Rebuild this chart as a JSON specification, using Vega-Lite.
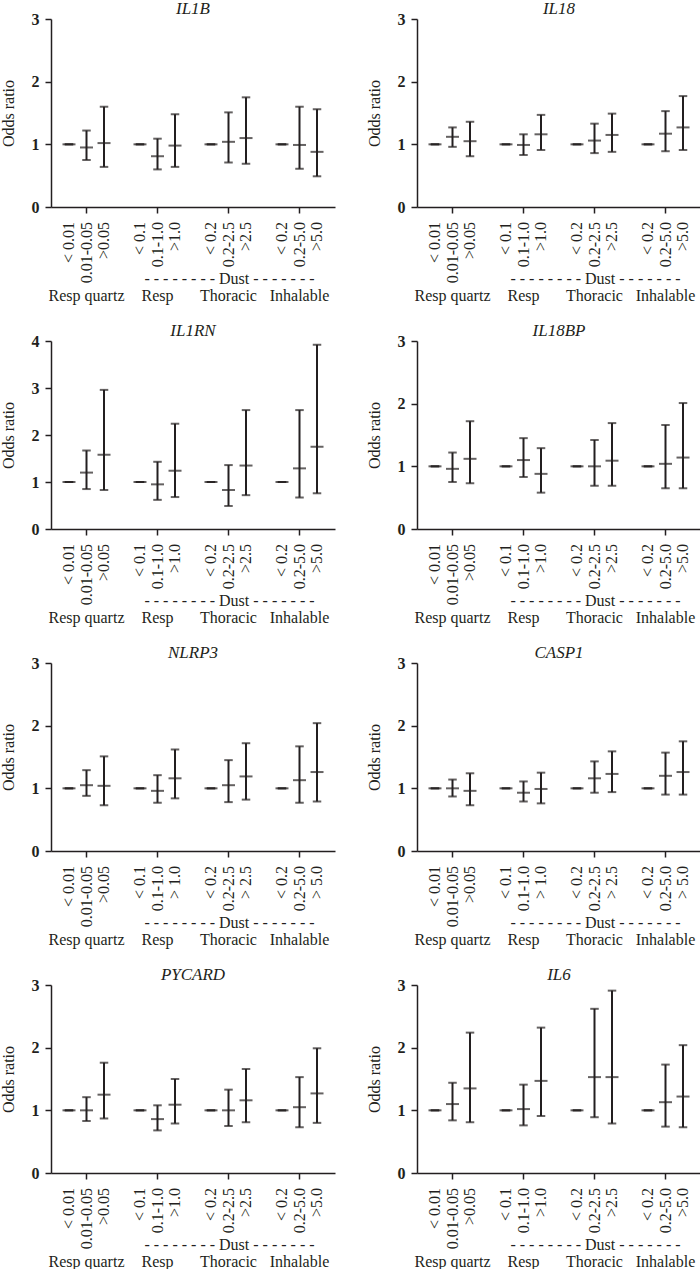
{
  "$schema": "https://vega.github.io/schema/vega-lite/v6.json",
  "padding": {"left": 0, "top": 0, "right": 0, "bottom": 0},
  "background": "white",
  "config": {
    "view": {"stroke": null},
    "font": "Liberation Serif",
    "axis": {
      "domainColor": "#231f20", "domainWidth": 1.5, "tickColor": "#231f20", "tickWidth": 1.5,
      "labelColor": "#231f20", "titleColor": "#231f20", "labelFont": "Liberation Serif", "titleFont": "Liberation Serif",
      "labelFontSize": 16, "titleFontSize": 16, "titleFontWeight": "normal", "grid": false
    },
    "title": {"font": "Liberation Serif", "fontSize": 17, "fontStyle": "italic", "fontWeight": "normal", "color": "#231f20", "offset": -7, "frame": "group", "anchor": "middle"}
  },
  "datasets": {
    "or": [
      {"gene":"IL1B","exposure":"Resp quartz","level":"ref","range":"< 0.01","or":1,"lo":1,"hi":1},
      {"gene":"IL1B","exposure":"Resp quartz","level":"mid","range":"0.01-0.05","or":0.95,"lo":0.75,"hi":1.22},
      {"gene":"IL1B","exposure":"Resp quartz","level":"high","range":">0.05","or":1.02,"lo":0.64,"hi":1.60},
      {"gene":"IL1B","exposure":"Resp","level":"ref","range":"< 0.1","or":1,"lo":1,"hi":1},
      {"gene":"IL1B","exposure":"Resp","level":"mid","range":"0.1-1.0","or":0.81,"lo":0.60,"hi":1.09},
      {"gene":"IL1B","exposure":"Resp","level":"high","range":">1.0","or":0.98,"lo":0.64,"hi":1.48},
      {"gene":"IL1B","exposure":"Thoracic","level":"ref","range":"< 0.2","or":1,"lo":1,"hi":1},
      {"gene":"IL1B","exposure":"Thoracic","level":"mid","range":"0.2-2.5","or":1.04,"lo":0.71,"hi":1.51},
      {"gene":"IL1B","exposure":"Thoracic","level":"high","range":">2.5","or":1.10,"lo":0.69,"hi":1.75},
      {"gene":"IL1B","exposure":"Inhalable","level":"ref","range":"< 0.2","or":1,"lo":1,"hi":1},
      {"gene":"IL1B","exposure":"Inhalable","level":"mid","range":"0.2-5.0","or":0.99,"lo":0.61,"hi":1.60},
      {"gene":"IL1B","exposure":"Inhalable","level":"high","range":">5.0","or":0.88,"lo":0.49,"hi":1.56},

      {"gene":"IL18","exposure":"Resp quartz","level":"ref","range":"< 0.01","or":1,"lo":1,"hi":1},
      {"gene":"IL18","exposure":"Resp quartz","level":"mid","range":"0.01-0.05","or":1.12,"lo":0.96,"hi":1.27},
      {"gene":"IL18","exposure":"Resp quartz","level":"high","range":">0.05","or":1.05,"lo":0.81,"hi":1.36},
      {"gene":"IL18","exposure":"Resp","level":"ref","range":"< 0.1","or":1,"lo":1,"hi":1},
      {"gene":"IL18","exposure":"Resp","level":"mid","range":"0.1-1.0","or":0.99,"lo":0.83,"hi":1.16},
      {"gene":"IL18","exposure":"Resp","level":"high","range":">1.0","or":1.16,"lo":0.91,"hi":1.47},
      {"gene":"IL18","exposure":"Thoracic","level":"ref","range":"< 0.2","or":1,"lo":1,"hi":1},
      {"gene":"IL18","exposure":"Thoracic","level":"mid","range":"0.2-2.5","or":1.06,"lo":0.86,"hi":1.33},
      {"gene":"IL18","exposure":"Thoracic","level":"high","range":">2.5","or":1.15,"lo":0.88,"hi":1.49},
      {"gene":"IL18","exposure":"Inhalable","level":"ref","range":"< 0.2","or":1,"lo":1,"hi":1},
      {"gene":"IL18","exposure":"Inhalable","level":"mid","range":"0.2-5.0","or":1.17,"lo":0.89,"hi":1.53},
      {"gene":"IL18","exposure":"Inhalable","level":"high","range":">5.0","or":1.27,"lo":0.91,"hi":1.77},

      {"gene":"IL1RN","exposure":"Resp quartz","level":"ref","range":"< 0.01","or":1,"lo":1,"hi":1},
      {"gene":"IL1RN","exposure":"Resp quartz","level":"mid","range":"0.01-0.05","or":1.20,"lo":0.85,"hi":1.67},
      {"gene":"IL1RN","exposure":"Resp quartz","level":"high","range":">0.05","or":1.58,"lo":0.83,"hi":2.96},
      {"gene":"IL1RN","exposure":"Resp","level":"ref","range":"< 0.1","or":1,"lo":1,"hi":1},
      {"gene":"IL1RN","exposure":"Resp","level":"mid","range":"0.1-1.0","or":0.95,"lo":0.62,"hi":1.43},
      {"gene":"IL1RN","exposure":"Resp","level":"high","range":">1.0","or":1.24,"lo":0.68,"hi":2.24},
      {"gene":"IL1RN","exposure":"Thoracic","level":"ref","range":"< 0.2","or":1,"lo":1,"hi":1},
      {"gene":"IL1RN","exposure":"Thoracic","level":"mid","range":"0.2-2.5","or":0.83,"lo":0.49,"hi":1.36},
      {"gene":"IL1RN","exposure":"Thoracic","level":"high","range":">2.5","or":1.35,"lo":0.72,"hi":2.53},
      {"gene":"IL1RN","exposure":"Inhalable","level":"ref","range":"< 0.2","or":1,"lo":1,"hi":1},
      {"gene":"IL1RN","exposure":"Inhalable","level":"mid","range":"0.2-5.0","or":1.29,"lo":0.67,"hi":2.53},
      {"gene":"IL1RN","exposure":"Inhalable","level":"high","range":">5.0","or":1.75,"lo":0.76,"hi":3.92},

      {"gene":"IL18BP","exposure":"Resp quartz","level":"ref","range":"< 0.01","or":1,"lo":1,"hi":1},
      {"gene":"IL18BP","exposure":"Resp quartz","level":"mid","range":"0.01-0.05","or":0.96,"lo":0.75,"hi":1.22},
      {"gene":"IL18BP","exposure":"Resp quartz","level":"high","range":">0.05","or":1.12,"lo":0.73,"hi":1.72},
      {"gene":"IL18BP","exposure":"Resp","level":"ref","range":"< 0.1","or":1,"lo":1,"hi":1},
      {"gene":"IL18BP","exposure":"Resp","level":"mid","range":"0.1-1.0","or":1.10,"lo":0.83,"hi":1.45},
      {"gene":"IL18BP","exposure":"Resp","level":"high","range":">1.0","or":0.88,"lo":0.58,"hi":1.29},
      {"gene":"IL18BP","exposure":"Thoracic","level":"ref","range":"< 0.2","or":1,"lo":1,"hi":1},
      {"gene":"IL18BP","exposure":"Thoracic","level":"mid","range":"0.2-2.5","or":1.00,"lo":0.69,"hi":1.42},
      {"gene":"IL18BP","exposure":"Thoracic","level":"high","range":">2.5","or":1.09,"lo":0.69,"hi":1.69},
      {"gene":"IL18BP","exposure":"Inhalable","level":"ref","range":"< 0.2","or":1,"lo":1,"hi":1},
      {"gene":"IL18BP","exposure":"Inhalable","level":"mid","range":"0.2-5.0","or":1.04,"lo":0.65,"hi":1.66},
      {"gene":"IL18BP","exposure":"Inhalable","level":"high","range":">5.0","or":1.14,"lo":0.65,"hi":2.01},

      {"gene":"NLRP3","exposure":"Resp quartz","level":"ref","range":"< 0.01","or":1,"lo":1,"hi":1},
      {"gene":"NLRP3","exposure":"Resp quartz","level":"mid","range":"0.01-0.05","or":1.05,"lo":0.88,"hi":1.29},
      {"gene":"NLRP3","exposure":"Resp quartz","level":"high","range":">0.05","or":1.04,"lo":0.73,"hi":1.51},
      {"gene":"NLRP3","exposure":"Resp","level":"ref","range":"< 0.1","or":1,"lo":1,"hi":1},
      {"gene":"NLRP3","exposure":"Resp","level":"mid","range":"0.1-1.0","or":0.96,"lo":0.77,"hi":1.21},
      {"gene":"NLRP3","exposure":"Resp","level":"high","range":"> 1.0","or":1.16,"lo":0.84,"hi":1.62},
      {"gene":"NLRP3","exposure":"Thoracic","level":"ref","range":"< 0.2","or":1,"lo":1,"hi":1},
      {"gene":"NLRP3","exposure":"Thoracic","level":"mid","range":"0.2-2.5","or":1.05,"lo":0.78,"hi":1.45},
      {"gene":"NLRP3","exposure":"Thoracic","level":"high","range":"> 2.5","or":1.19,"lo":0.82,"hi":1.72},
      {"gene":"NLRP3","exposure":"Inhalable","level":"ref","range":"< 0.2","or":1,"lo":1,"hi":1},
      {"gene":"NLRP3","exposure":"Inhalable","level":"mid","range":"0.2-5.0","or":1.13,"lo":0.77,"hi":1.67},
      {"gene":"NLRP3","exposure":"Inhalable","level":"high","range":"> 5.0","or":1.26,"lo":0.79,"hi":2.04},

      {"gene":"CASP1","exposure":"Resp quartz","level":"ref","range":"< 0.01","or":1,"lo":1,"hi":1},
      {"gene":"CASP1","exposure":"Resp quartz","level":"mid","range":"0.01-0.05","or":1.00,"lo":0.87,"hi":1.14},
      {"gene":"CASP1","exposure":"Resp quartz","level":"high","range":">0.05","or":0.96,"lo":0.73,"hi":1.24},
      {"gene":"CASP1","exposure":"Resp","level":"ref","range":"< 0.1","or":1,"lo":1,"hi":1},
      {"gene":"CASP1","exposure":"Resp","level":"mid","range":"0.1-1.0","or":0.93,"lo":0.79,"hi":1.11},
      {"gene":"CASP1","exposure":"Resp","level":"high","range":"> 1.0","or":0.99,"lo":0.76,"hi":1.25},
      {"gene":"CASP1","exposure":"Thoracic","level":"ref","range":"< 0.2","or":1,"lo":1,"hi":1},
      {"gene":"CASP1","exposure":"Thoracic","level":"mid","range":"0.2-2.5","or":1.16,"lo":0.93,"hi":1.43},
      {"gene":"CASP1","exposure":"Thoracic","level":"high","range":"> 2.5","or":1.23,"lo":0.94,"hi":1.59},
      {"gene":"CASP1","exposure":"Inhalable","level":"ref","range":"< 0.2","or":1,"lo":1,"hi":1},
      {"gene":"CASP1","exposure":"Inhalable","level":"mid","range":"0.2-5.0","or":1.20,"lo":0.90,"hi":1.57},
      {"gene":"CASP1","exposure":"Inhalable","level":"high","range":"> 5.0","or":1.26,"lo":0.90,"hi":1.75},

      {"gene":"PYCARD","exposure":"Resp quartz","level":"ref","range":"< 0.01","or":1,"lo":1,"hi":1},
      {"gene":"PYCARD","exposure":"Resp quartz","level":"mid","range":"0.01-0.05","or":1.00,"lo":0.83,"hi":1.21},
      {"gene":"PYCARD","exposure":"Resp quartz","level":"high","range":">0.05","or":1.25,"lo":0.87,"hi":1.76},
      {"gene":"PYCARD","exposure":"Resp","level":"ref","range":"< 0.1","or":1,"lo":1,"hi":1},
      {"gene":"PYCARD","exposure":"Resp","level":"mid","range":"0.1-1.0","or":0.86,"lo":0.68,"hi":1.08},
      {"gene":"PYCARD","exposure":"Resp","level":"high","range":">1.0","or":1.09,"lo":0.79,"hi":1.50},
      {"gene":"PYCARD","exposure":"Thoracic","level":"ref","range":"< 0.2","or":1,"lo":1,"hi":1},
      {"gene":"PYCARD","exposure":"Thoracic","level":"mid","range":"0.2-2.5","or":1.00,"lo":0.75,"hi":1.33},
      {"gene":"PYCARD","exposure":"Thoracic","level":"high","range":">2.5","or":1.16,"lo":0.81,"hi":1.66},
      {"gene":"PYCARD","exposure":"Inhalable","level":"ref","range":"< 0.2","or":1,"lo":1,"hi":1},
      {"gene":"PYCARD","exposure":"Inhalable","level":"mid","range":"0.2-5.0","or":1.05,"lo":0.73,"hi":1.53},
      {"gene":"PYCARD","exposure":"Inhalable","level":"high","range":">5.0","or":1.27,"lo":0.80,"hi":1.99},

      {"gene":"IL6","exposure":"Resp quartz","level":"ref","range":"< 0.01","or":1,"lo":1,"hi":1},
      {"gene":"IL6","exposure":"Resp quartz","level":"mid","range":"0.01-0.05","or":1.10,"lo":0.84,"hi":1.44},
      {"gene":"IL6","exposure":"Resp quartz","level":"high","range":">0.05","or":1.35,"lo":0.81,"hi":2.24},
      {"gene":"IL6","exposure":"Resp","level":"ref","range":"< 0.1","or":1,"lo":1,"hi":1},
      {"gene":"IL6","exposure":"Resp","level":"mid","range":"0.1-1.0","or":1.02,"lo":0.76,"hi":1.41},
      {"gene":"IL6","exposure":"Resp","level":"high","range":">1.0","or":1.47,"lo":0.91,"hi":2.32},
      {"gene":"IL6","exposure":"Thoracic","level":"ref","range":"< 0.2","or":1,"lo":1,"hi":1},
      {"gene":"IL6","exposure":"Thoracic","level":"mid","range":"0.2-2.5","or":1.53,"lo":0.89,"hi":2.62},
      {"gene":"IL6","exposure":"Thoracic","level":"high","range":">2.5","or":1.53,"lo":0.79,"hi":2.91},
      {"gene":"IL6","exposure":"Inhalable","level":"ref","range":"< 0.2","or":1,"lo":1,"hi":1},
      {"gene":"IL6","exposure":"Inhalable","level":"mid","range":"0.2-5.0","or":1.13,"lo":0.74,"hi":1.73},
      {"gene":"IL6","exposure":"Inhalable","level":"high","range":">5.0","or":1.22,"lo":0.73,"hi":2.04}
    ]
  },
  "columns": 2,
  "spacing": {"row": 19, "column": 31},
  "concat": [
    {
      "title": "IL1B", "width": 284, "height": 188,
      "data": {"name": "or"},
      "transform": [{"filter": "datum.gene === 'IL1B'"}],
      "encoding": {
        "x": {"field": "exposure", "type": "nominal", "sort": ["Resp quartz","Resp","Thoracic","Inhalable"], "scale": {"paddingInner": 0.26, "paddingOuter": 0.13},
          "axis": {"title": "- - - - - - - - Dust - - - - - - -", "titleX": 178, "titleY": 71, "titleBaseline": "middle", "labelAngle": 0, "labelBaseline": "middle", "labelPadding": 82, "tickSize": 6}},
        "xOffset": {"field": "level", "type": "nominal", "sort": ["ref","mid","high"], "scale": {"type": "point", "padding": 0.5}}
      },
      "layer": [
        {"mark": {"type": "rule", "color": "#231f20", "strokeWidth": 2}, "encoding": {"y": {"field": "lo", "type": "quantitative", "scale": {"domain": [0, 3]}, "axis": {"values": [0,1,2,3], "format": "d", "title": "Odds ratio", "labelFontWeight": "bold", "tickSize": 6, "labelPadding": 6, "titlePadding": 15}}, "y2": {"field": "hi"}}},
        {"mark": {"type": "tick", "orient": "horizontal", "size": 8.5, "thickness": 2, "color": "#231f20"}, "encoding": {"y": {"field": "lo", "type": "quantitative"}}},
        {"mark": {"type": "tick", "orient": "horizontal", "size": 8.5, "thickness": 2, "color": "#231f20"}, "encoding": {"y": {"field": "hi", "type": "quantitative"}}},
        {"mark": {"type": "tick", "orient": "horizontal", "size": 13, "thickness": 2, "color": "#231f20"}, "encoding": {"y": {"field": "or", "type": "quantitative"}}},
        {"mark": {"type": "text", "angle": 270, "align": "right", "baseline": "middle", "dx": -15, "fontSize": 16, "font": "Liberation Serif", "color": "#231f20"}, "encoding": {"y": {"datum": 0}, "text": {"field": "range"}}}
      ]
    },
    {
      "title": "IL18", "width": 284, "height": 188,
      "data": {"name": "or"},
      "transform": [{"filter": "datum.gene === 'IL18'"}],
      "encoding": {
        "x": {"field": "exposure", "type": "nominal", "sort": ["Resp quartz","Resp","Thoracic","Inhalable"], "scale": {"paddingInner": 0.26, "paddingOuter": 0.13},
          "axis": {"title": "- - - - - - - - Dust - - - - - - -", "titleX": 178, "titleY": 71, "titleBaseline": "middle", "labelAngle": 0, "labelBaseline": "middle", "labelPadding": 82, "tickSize": 6}},
        "xOffset": {"field": "level", "type": "nominal", "sort": ["ref","mid","high"], "scale": {"type": "point", "padding": 0.5}}
      },
      "layer": [
        {"mark": {"type": "rule", "color": "#231f20", "strokeWidth": 2}, "encoding": {"y": {"field": "lo", "type": "quantitative", "scale": {"domain": [0, 3]}, "axis": {"values": [0,1,2,3], "format": "d", "title": "Odds ratio", "labelFontWeight": "bold", "tickSize": 6, "labelPadding": 6, "titlePadding": 15}}, "y2": {"field": "hi"}}},
        {"mark": {"type": "tick", "orient": "horizontal", "size": 8.5, "thickness": 2, "color": "#231f20"}, "encoding": {"y": {"field": "lo", "type": "quantitative"}}},
        {"mark": {"type": "tick", "orient": "horizontal", "size": 8.5, "thickness": 2, "color": "#231f20"}, "encoding": {"y": {"field": "hi", "type": "quantitative"}}},
        {"mark": {"type": "tick", "orient": "horizontal", "size": 13, "thickness": 2, "color": "#231f20"}, "encoding": {"y": {"field": "or", "type": "quantitative"}}},
        {"mark": {"type": "text", "angle": 270, "align": "right", "baseline": "middle", "dx": -15, "fontSize": 16, "font": "Liberation Serif", "color": "#231f20"}, "encoding": {"y": {"datum": 0}, "text": {"field": "range"}}}
      ]
    },
    {
      "title": "IL1RN", "width": 284, "height": 188,
      "data": {"name": "or"},
      "transform": [{"filter": "datum.gene === 'IL1RN'"}],
      "encoding": {
        "x": {"field": "exposure", "type": "nominal", "sort": ["Resp quartz","Resp","Thoracic","Inhalable"], "scale": {"paddingInner": 0.26, "paddingOuter": 0.13},
          "axis": {"title": "- - - - - - - - Dust - - - - - - -", "titleX": 178, "titleY": 71, "titleBaseline": "middle", "labelAngle": 0, "labelBaseline": "middle", "labelPadding": 82, "tickSize": 6}},
        "xOffset": {"field": "level", "type": "nominal", "sort": ["ref","mid","high"], "scale": {"type": "point", "padding": 0.5}}
      },
      "layer": [
        {"mark": {"type": "rule", "color": "#231f20", "strokeWidth": 2}, "encoding": {"y": {"field": "lo", "type": "quantitative", "scale": {"domain": [0, 4]}, "axis": {"values": [0,1,2,3,4], "format": "d", "title": "Odds ratio", "labelFontWeight": "bold", "tickSize": 6, "labelPadding": 6, "titlePadding": 15}}, "y2": {"field": "hi"}}},
        {"mark": {"type": "tick", "orient": "horizontal", "size": 8.5, "thickness": 2, "color": "#231f20"}, "encoding": {"y": {"field": "lo", "type": "quantitative"}}},
        {"mark": {"type": "tick", "orient": "horizontal", "size": 8.5, "thickness": 2, "color": "#231f20"}, "encoding": {"y": {"field": "hi", "type": "quantitative"}}},
        {"mark": {"type": "tick", "orient": "horizontal", "size": 13, "thickness": 2, "color": "#231f20"}, "encoding": {"y": {"field": "or", "type": "quantitative"}}},
        {"mark": {"type": "text", "angle": 270, "align": "right", "baseline": "middle", "dx": -15, "fontSize": 16, "font": "Liberation Serif", "color": "#231f20"}, "encoding": {"y": {"datum": 0}, "text": {"field": "range"}}}
      ]
    },
    {
      "title": "IL18BP", "width": 284, "height": 188,
      "data": {"name": "or"},
      "transform": [{"filter": "datum.gene === 'IL18BP'"}],
      "encoding": {
        "x": {"field": "exposure", "type": "nominal", "sort": ["Resp quartz","Resp","Thoracic","Inhalable"], "scale": {"paddingInner": 0.26, "paddingOuter": 0.13},
          "axis": {"title": "- - - - - - - - Dust - - - - - - -", "titleX": 178, "titleY": 71, "titleBaseline": "middle", "labelAngle": 0, "labelBaseline": "middle", "labelPadding": 82, "tickSize": 6}},
        "xOffset": {"field": "level", "type": "nominal", "sort": ["ref","mid","high"], "scale": {"type": "point", "padding": 0.5}}
      },
      "layer": [
        {"mark": {"type": "rule", "color": "#231f20", "strokeWidth": 2}, "encoding": {"y": {"field": "lo", "type": "quantitative", "scale": {"domain": [0, 3]}, "axis": {"values": [0,1,2,3], "format": "d", "title": "Odds ratio", "labelFontWeight": "bold", "tickSize": 6, "labelPadding": 6, "titlePadding": 15}}, "y2": {"field": "hi"}}},
        {"mark": {"type": "tick", "orient": "horizontal", "size": 8.5, "thickness": 2, "color": "#231f20"}, "encoding": {"y": {"field": "lo", "type": "quantitative"}}},
        {"mark": {"type": "tick", "orient": "horizontal", "size": 8.5, "thickness": 2, "color": "#231f20"}, "encoding": {"y": {"field": "hi", "type": "quantitative"}}},
        {"mark": {"type": "tick", "orient": "horizontal", "size": 13, "thickness": 2, "color": "#231f20"}, "encoding": {"y": {"field": "or", "type": "quantitative"}}},
        {"mark": {"type": "text", "angle": 270, "align": "right", "baseline": "middle", "dx": -15, "fontSize": 16, "font": "Liberation Serif", "color": "#231f20"}, "encoding": {"y": {"datum": 0}, "text": {"field": "range"}}}
      ]
    },
    {
      "title": "NLRP3", "width": 284, "height": 188,
      "data": {"name": "or"},
      "transform": [{"filter": "datum.gene === 'NLRP3'"}],
      "encoding": {
        "x": {"field": "exposure", "type": "nominal", "sort": ["Resp quartz","Resp","Thoracic","Inhalable"], "scale": {"paddingInner": 0.26, "paddingOuter": 0.13},
          "axis": {"title": "- - - - - - - - Dust - - - - - - -", "titleX": 178, "titleY": 71, "titleBaseline": "middle", "labelAngle": 0, "labelBaseline": "middle", "labelPadding": 82, "tickSize": 6}},
        "xOffset": {"field": "level", "type": "nominal", "sort": ["ref","mid","high"], "scale": {"type": "point", "padding": 0.5}}
      },
      "layer": [
        {"mark": {"type": "rule", "color": "#231f20", "strokeWidth": 2}, "encoding": {"y": {"field": "lo", "type": "quantitative", "scale": {"domain": [0, 3]}, "axis": {"values": [0,1,2,3], "format": "d", "title": "Odds ratio", "labelFontWeight": "bold", "tickSize": 6, "labelPadding": 6, "titlePadding": 15}}, "y2": {"field": "hi"}}},
        {"mark": {"type": "tick", "orient": "horizontal", "size": 8.5, "thickness": 2, "color": "#231f20"}, "encoding": {"y": {"field": "lo", "type": "quantitative"}}},
        {"mark": {"type": "tick", "orient": "horizontal", "size": 8.5, "thickness": 2, "color": "#231f20"}, "encoding": {"y": {"field": "hi", "type": "quantitative"}}},
        {"mark": {"type": "tick", "orient": "horizontal", "size": 13, "thickness": 2, "color": "#231f20"}, "encoding": {"y": {"field": "or", "type": "quantitative"}}},
        {"mark": {"type": "text", "angle": 270, "align": "right", "baseline": "middle", "dx": -15, "fontSize": 16, "font": "Liberation Serif", "color": "#231f20"}, "encoding": {"y": {"datum": 0}, "text": {"field": "range"}}}
      ]
    },
    {
      "title": "CASP1", "width": 284, "height": 188,
      "data": {"name": "or"},
      "transform": [{"filter": "datum.gene === 'CASP1'"}],
      "encoding": {
        "x": {"field": "exposure", "type": "nominal", "sort": ["Resp quartz","Resp","Thoracic","Inhalable"], "scale": {"paddingInner": 0.26, "paddingOuter": 0.13},
          "axis": {"title": "- - - - - - - - Dust - - - - - - -", "titleX": 178, "titleY": 71, "titleBaseline": "middle", "labelAngle": 0, "labelBaseline": "middle", "labelPadding": 82, "tickSize": 6}},
        "xOffset": {"field": "level", "type": "nominal", "sort": ["ref","mid","high"], "scale": {"type": "point", "padding": 0.5}}
      },
      "layer": [
        {"mark": {"type": "rule", "color": "#231f20", "strokeWidth": 2}, "encoding": {"y": {"field": "lo", "type": "quantitative", "scale": {"domain": [0, 3]}, "axis": {"values": [0,1,2,3], "format": "d", "title": "Odds ratio", "labelFontWeight": "bold", "tickSize": 6, "labelPadding": 6, "titlePadding": 15}}, "y2": {"field": "hi"}}},
        {"mark": {"type": "tick", "orient": "horizontal", "size": 8.5, "thickness": 2, "color": "#231f20"}, "encoding": {"y": {"field": "lo", "type": "quantitative"}}},
        {"mark": {"type": "tick", "orient": "horizontal", "size": 8.5, "thickness": 2, "color": "#231f20"}, "encoding": {"y": {"field": "hi", "type": "quantitative"}}},
        {"mark": {"type": "tick", "orient": "horizontal", "size": 13, "thickness": 2, "color": "#231f20"}, "encoding": {"y": {"field": "or", "type": "quantitative"}}},
        {"mark": {"type": "text", "angle": 270, "align": "right", "baseline": "middle", "dx": -15, "fontSize": 16, "font": "Liberation Serif", "color": "#231f20"}, "encoding": {"y": {"datum": 0}, "text": {"field": "range"}}}
      ]
    },
    {
      "title": "PYCARD", "width": 284, "height": 188,
      "data": {"name": "or"},
      "transform": [{"filter": "datum.gene === 'PYCARD'"}],
      "encoding": {
        "x": {"field": "exposure", "type": "nominal", "sort": ["Resp quartz","Resp","Thoracic","Inhalable"], "scale": {"paddingInner": 0.26, "paddingOuter": 0.13},
          "axis": {"title": "- - - - - - - - Dust - - - - - - -", "titleX": 178, "titleY": 71, "titleBaseline": "middle", "labelAngle": 0, "labelBaseline": "middle", "labelPadding": 82, "tickSize": 6}},
        "xOffset": {"field": "level", "type": "nominal", "sort": ["ref","mid","high"], "scale": {"type": "point", "padding": 0.5}}
      },
      "layer": [
        {"mark": {"type": "rule", "color": "#231f20", "strokeWidth": 2}, "encoding": {"y": {"field": "lo", "type": "quantitative", "scale": {"domain": [0, 3]}, "axis": {"values": [0,1,2,3], "format": "d", "title": "Odds ratio", "labelFontWeight": "bold", "tickSize": 6, "labelPadding": 6, "titlePadding": 15}}, "y2": {"field": "hi"}}},
        {"mark": {"type": "tick", "orient": "horizontal", "size": 8.5, "thickness": 2, "color": "#231f20"}, "encoding": {"y": {"field": "lo", "type": "quantitative"}}},
        {"mark": {"type": "tick", "orient": "horizontal", "size": 8.5, "thickness": 2, "color": "#231f20"}, "encoding": {"y": {"field": "hi", "type": "quantitative"}}},
        {"mark": {"type": "tick", "orient": "horizontal", "size": 13, "thickness": 2, "color": "#231f20"}, "encoding": {"y": {"field": "or", "type": "quantitative"}}},
        {"mark": {"type": "text", "angle": 270, "align": "right", "baseline": "middle", "dx": -15, "fontSize": 16, "font": "Liberation Serif", "color": "#231f20"}, "encoding": {"y": {"datum": 0}, "text": {"field": "range"}}}
      ]
    },
    {
      "title": "IL6", "width": 284, "height": 188,
      "data": {"name": "or"},
      "transform": [{"filter": "datum.gene === 'IL6'"}],
      "encoding": {
        "x": {"field": "exposure", "type": "nominal", "sort": ["Resp quartz","Resp","Thoracic","Inhalable"], "scale": {"paddingInner": 0.26, "paddingOuter": 0.13},
          "axis": {"title": "- - - - - - - - Dust - - - - - - -", "titleX": 178, "titleY": 71, "titleBaseline": "middle", "labelAngle": 0, "labelBaseline": "middle", "labelPadding": 82, "tickSize": 6}},
        "xOffset": {"field": "level", "type": "nominal", "sort": ["ref","mid","high"], "scale": {"type": "point", "padding": 0.5}}
      },
      "layer": [
        {"mark": {"type": "rule", "color": "#231f20", "strokeWidth": 2}, "encoding": {"y": {"field": "lo", "type": "quantitative", "scale": {"domain": [0, 3]}, "axis": {"values": [0,1,2,3], "format": "d", "title": "Odds ratio", "labelFontWeight": "bold", "tickSize": 6, "labelPadding": 6, "titlePadding": 15}}, "y2": {"field": "hi"}}},
        {"mark": {"type": "tick", "orient": "horizontal", "size": 8.5, "thickness": 2, "color": "#231f20"}, "encoding": {"y": {"field": "lo", "type": "quantitative"}}},
        {"mark": {"type": "tick", "orient": "horizontal", "size": 8.5, "thickness": 2, "color": "#231f20"}, "encoding": {"y": {"field": "hi", "type": "quantitative"}}},
        {"mark": {"type": "tick", "orient": "horizontal", "size": 13, "thickness": 2, "color": "#231f20"}, "encoding": {"y": {"field": "or", "type": "quantitative"}}},
        {"mark": {"type": "text", "angle": 270, "align": "right", "baseline": "middle", "dx": -15, "fontSize": 16, "font": "Liberation Serif", "color": "#231f20"}, "encoding": {"y": {"datum": 0}, "text": {"field": "range"}}}
      ]
    }
  ]
}
